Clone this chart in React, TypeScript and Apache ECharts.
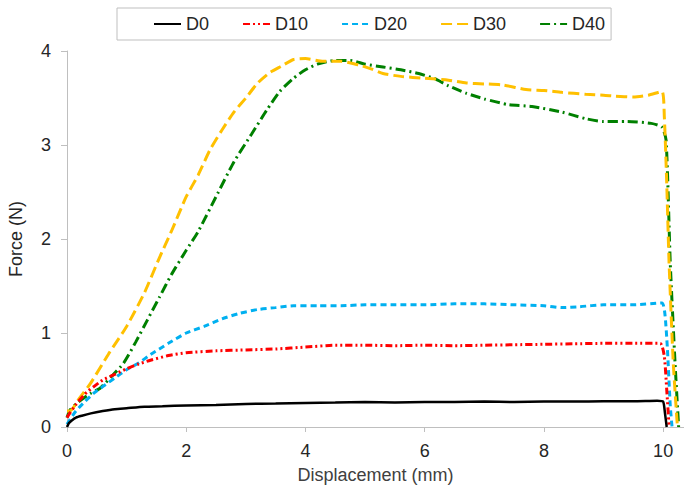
import React, { useEffect, useRef } from "react";
import * as echarts from "echarts";

const seriesNames = ["D0", "D10", "D20", "D30", "D40"];
const xTickValues = [0, 2, 4, 6, 8, 10];

const d0X = [0, 0.03, 0.08, 0.15, 0.25, 0.4, 0.6, 0.8, 1.0, 1.3, 1.6, 2.0, 2.5, 3.0, 3.5, 4.0, 4.5, 5.0, 5.5, 6.0, 6.5, 7.0, 7.5, 8.0, 8.5, 9.0, 9.5, 9.9, 10.0, 10.03, 10.06];
const d0Y = [0, 0.04, 0.07, 0.1, 0.12, 0.145, 0.17, 0.19, 0.2, 0.215, 0.22, 0.23, 0.235, 0.245, 0.25, 0.255, 0.26, 0.265, 0.26, 0.265, 0.265, 0.27, 0.265, 0.27, 0.27, 0.275, 0.275, 0.28, 0.27, 0.15, 0.0];

const d10X = [0, 0.05, 0.15, 0.3, 0.45, 0.6, 0.8, 1.0, 1.2, 1.4, 1.7, 2.0, 2.5, 3.0, 3.5, 4.0, 4.5, 5.0, 5.5, 6.0, 6.5, 7.0, 7.5, 8.0, 8.5, 9.0, 9.5, 9.95, 10.02, 10.06, 10.1];
const d10Y = [0.1, 0.15, 0.24, 0.35, 0.43, 0.5, 0.56, 0.62, 0.67, 0.71, 0.76, 0.79, 0.81, 0.82, 0.83, 0.85, 0.87, 0.87, 0.865, 0.87, 0.865, 0.87, 0.875, 0.88, 0.885, 0.89, 0.89, 0.89, 0.75, 0.4, 0.0];

const d20X = [0, 0.05, 0.15, 0.3, 0.45, 0.6, 0.8, 1.0, 1.2, 1.4, 1.7, 2.0, 2.3, 2.6, 2.9, 3.2, 3.5, 3.8, 4.2, 4.6, 5.0, 5.5, 6.0, 6.5, 7.0, 7.5, 8.0, 8.3, 8.6, 9.0, 9.5, 9.98, 10.03, 10.07, 10.12, 10.15];
const d20Y = [0.03, 0.08, 0.17, 0.27, 0.36, 0.43, 0.52, 0.61, 0.68, 0.77, 0.89, 1.0, 1.07, 1.15, 1.21, 1.25, 1.27, 1.29, 1.29, 1.29, 1.3, 1.3, 1.3, 1.31, 1.31, 1.3, 1.29, 1.27, 1.28, 1.3, 1.3, 1.32, 1.2, 0.85, 0.22, 0.0];

const d30X = [0, 0.05, 0.2, 0.4, 0.7, 1.0, 1.3, 1.55, 1.75, 2.0, 2.2, 2.4, 2.6, 2.8, 3.0, 3.2, 3.4, 3.6, 3.8, 4.0, 4.3, 4.6, 4.9, 5.1, 5.3, 5.6, 6.0, 6.4, 6.7, 7.0, 7.3, 7.7, 8.0, 8.3, 8.7, 9.0, 9.2, 9.5, 9.75, 9.98, 10.02, 10.06, 10.1, 10.17, 10.24];
const d30Y = [0.17, 0.17, 0.3, 0.47, 0.78, 1.07, 1.43, 1.8, 2.08, 2.45, 2.68, 2.95, 3.16, 3.35, 3.5, 3.66, 3.77, 3.84, 3.91, 3.92, 3.89, 3.89, 3.85, 3.81, 3.76, 3.73, 3.71, 3.69, 3.66, 3.65, 3.64, 3.59, 3.58, 3.56, 3.54, 3.53, 3.52, 3.51, 3.53, 3.57, 3.3, 2.6, 1.74, 0.68, 0.0];

const d40X = [0, 0.05, 0.2, 0.4, 0.55, 0.75, 0.95, 1.15, 1.35, 1.55, 1.75, 2.0, 2.2, 2.5, 2.8, 3.1, 3.35, 3.57, 3.8, 4.0, 4.2, 4.5, 4.75, 5.0, 5.3, 5.6, 5.9, 6.15, 6.4, 6.7, 7.0, 7.4, 7.8, 8.3, 8.7, 9.0, 9.4, 9.8, 9.98, 10.05, 10.12, 10.2, 10.26];
const d40Y = [0.1, 0.18, 0.27, 0.36, 0.41, 0.54, 0.68, 0.9, 1.14, 1.38, 1.62, 1.88, 2.08, 2.45, 2.82, 3.12, 3.37, 3.57, 3.71, 3.8, 3.86, 3.9, 3.9, 3.86, 3.83, 3.8, 3.76, 3.71, 3.63, 3.55, 3.49, 3.43, 3.41, 3.35, 3.28, 3.25, 3.25, 3.23, 3.19, 3.05, 1.74, 0.68, 0.0];

const allX = [d0X, d10X, d20X, d30X, d40X];
const allY = [d0Y, d10Y, d20Y, d30Y, d40Y];
const colors = ["#000000", "#ff0000", "#00b0f0", "#ffc000", "#008000"];
const dashes: any[] = ["solid", [7, 3, 2, 3, 2, 3], [6, 4], [11, 5], [10, 4, 2, 4]];
const widths = [2.5, 3, 3, 3, 3];

const FONT = "Liberation Sans, Arial, sans-serif";

export default function App() {
  const ref = useRef<HTMLDivElement>(null);
  useEffect(() => {
    if (!ref.current) return;
    const chart = echarts.init(ref.current, null, { renderer: "svg" });
    const series = seriesNames.map((name, k) => ({
      name,
      type: "line",
      data: allX[k].map((x, i) => [x, allY[k][i]]),
      showSymbol: false,
      symbol: "none",
      smooth: 0.2,
      color: colors[k],
      lineStyle: { color: colors[k], width: widths[k], type: dashes[k] },
      z: 10 - k,
    }));
    chart.setOption({
      animation: false,
      textStyle: { fontFamily: FONT },
      grid: { left: 67, right: 0, top: 51, bottom: 66, outerBoundsMode: "none" },
      legend: {
        data: seriesNames,
        left: 117,
        top: 8,
        orient: "horizontal",
        padding: [7, 6, 7, 36],
        itemGap: 33,
        itemWidth: 27,
        itemHeight: 14,
        itemStyle: { opacity: 0, color: "transparent", borderWidth: 0 },
        borderColor: "#bfbfbf",
        borderWidth: 1,
        textStyle: { fontSize: 18, color: "#262626", fontFamily: FONT },
      },
      xAxis: {
        type: "value",
        min: 0,
        max: 10.35,
        name: "Displacement (mm)",
        nameLocation: "middle",
        nameGap: 39,
        nameTextStyle: { fontSize: 18, color: "#404040", fontFamily: FONT },
        axisLine: { show: true, lineStyle: { color: "#bfbfbf", width: 1 } },
        axisTick: { show: true, length: 5, lineStyle: { color: "#bfbfbf" }, customValues: xTickValues },
        axisLabel: { fontSize: 18, color: "#262626", margin: 15, fontFamily: FONT, customValues: xTickValues },
        splitLine: { show: false },
      },
      yAxis: {
        type: "value",
        min: 0,
        max: 4,
        interval: 1,
        name: "Force (N)",
        nameLocation: "middle",
        nameGap: 42,
        nameTextStyle: { fontSize: 18, color: "#262626", fontFamily: FONT },
        axisLine: { show: true, lineStyle: { color: "#bfbfbf", width: 1 } },
        axisTick: { show: true, length: 6, lineStyle: { color: "#bfbfbf" } },
        axisLabel: { fontSize: 18, color: "#262626", margin: 16, fontFamily: FONT },
        splitLine: { show: false },
      },
      series,
    });
    return () => chart.dispose();
  }, []);
  return (
    <div
      ref={ref}
      style={{ position: "fixed", left: 0, top: 0, width: 684, height: 493, background: "#ffffff" }}
    />
  );
}
